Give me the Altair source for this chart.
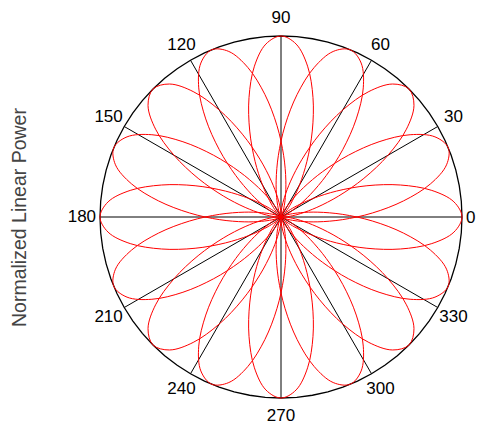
import altair as alt
import pandas as pd

# 16 beam lobes, one every 22.5 degrees
lobe_centers = [0, 22.5, 45, 67.5, 90, 112.5, 135, 157.5,
                180, 202.5, 225, 247.5, 270, 292.5, 315, 337.5]

# lobe profile: normalized power vs angular offset from lobe axis
profile_offsets = [-60, -55, -50, -45, -40, -35, -30, -25, -20, -15, -10, -5, 0,
                   5, 10, 15, 20, 25, 30, 35, 40, 45, 50, 55, 60]
profile_r = [0.0, 0.002, 0.008, 0.022, 0.053, 0.111, 0.205, 0.339, 0.505, 0.683, 0.846, 0.959, 1.0,
             0.959, 0.846, 0.683, 0.505, 0.339, 0.205, 0.111, 0.053, 0.022, 0.008, 0.002, 0.0]

# spokes and angle labels
spoke_angles = [0, 30, 60, 90, 120, 150, 180, 210, 240, 270, 300, 330]
label_texts = ["0", "30", "60", "90", "120", "150", "180", "210", "240", "270", "300", "330"]

# outer circle (r = 1)
circle_angles = list(range(0, 365, 5))

lobe_df = pd.DataFrame(
    [{"lobe": i, "center": c, "offset": o, "r": r}
     for i, c in enumerate(lobe_centers)
     for o, r in zip(profile_offsets, profile_r)]
)
spoke_df = pd.DataFrame({"a": spoke_angles, "label": label_texts})
circle_df = pd.DataFrame({"a": circle_angles})

xs = alt.Scale(domain=[-1, 1], nice=False, zero=False)
ys = alt.Scale(domain=[-1, 1], nice=False, zero=False)
yaxis = alt.Axis(title="Normalized Linear Power", domain=False, ticks=False, labels=False,
                 grid=False, titleFont="Liberation Sans", titleFontSize=19.5,
                 titleFontWeight="normal", titleColor="#444444", titlePadding=71)

spokes = alt.Chart(spoke_df).transform_calculate(
    x0="0", y0="0",
    x1="cos(datum.a*PI/180)", y1="sin(datum.a*PI/180)"
).mark_rule(color="black", strokeWidth=1).encode(
    x=alt.X("x0:Q", scale=xs, axis=None),
    y=alt.Y("y0:Q", scale=ys, axis=yaxis),
    x2="x1:Q", y2="y1:Q",
)

circle = alt.Chart(circle_df).transform_calculate(
    x="cos(datum.a*PI/180)", y="sin(datum.a*PI/180)"
).mark_line(color="black", strokeWidth=1.3).encode(
    x=alt.X("x:Q", scale=xs, axis=None),
    y=alt.Y("y:Q", scale=ys, axis=yaxis),
    order="a:Q",
)

lobes = alt.Chart(lobe_df).transform_calculate(
    ang="(datum.center + datum.offset)*PI/180",
    x="datum.r*cos(datum.ang)", y="datum.r*sin(datum.ang)"
).mark_line(color="#ff0000", strokeWidth=1, interpolate="catmull-rom").encode(
    x=alt.X("x:Q", scale=xs, axis=None),
    y=alt.Y("y:Q", scale=ys, axis=yaxis),
    detail="lobe:N",
    order="offset:Q",
)

labels = alt.Chart(spoke_df).transform_filter("datum.a != 0").transform_calculate(
    x="1.1*cos(datum.a*PI/180)", y="1.1*sin(datum.a*PI/180)"
).mark_text(
    font="Liberation Sans", fontSize=17, color="black", align="center", baseline="middle"
).encode(
    x=alt.X("x:Q", scale=xs, axis=None),
    y=alt.Y("y:Q", scale=ys, axis=yaxis),
    text="label:N",
)
label0 = alt.Chart(spoke_df).transform_filter("datum.a == 0").transform_calculate(
    x="cos(datum.a*PI/180)", y="sin(datum.a*PI/180)"
).mark_text(
    font="Liberation Sans", fontSize=17, color="black", align="left", baseline="middle", dx=4, dy=1
).encode(
    x=alt.X("x:Q", scale=xs, axis=None),
    y=alt.Y("y:Q", scale=ys, axis=yaxis),
    text="label:N",
)

chart = alt.layer(spokes, circle, lobes, labels, label0).properties(
    width=362, height=362,
    autosize=alt.AutoSizeParams(type="none"),
    padding={"left": 92, "top": 28, "right": 15, "bottom": 27},
).configure_view(stroke=None)

chart.save("out.html", embed_options={"renderer": "svg", "actions": False})
